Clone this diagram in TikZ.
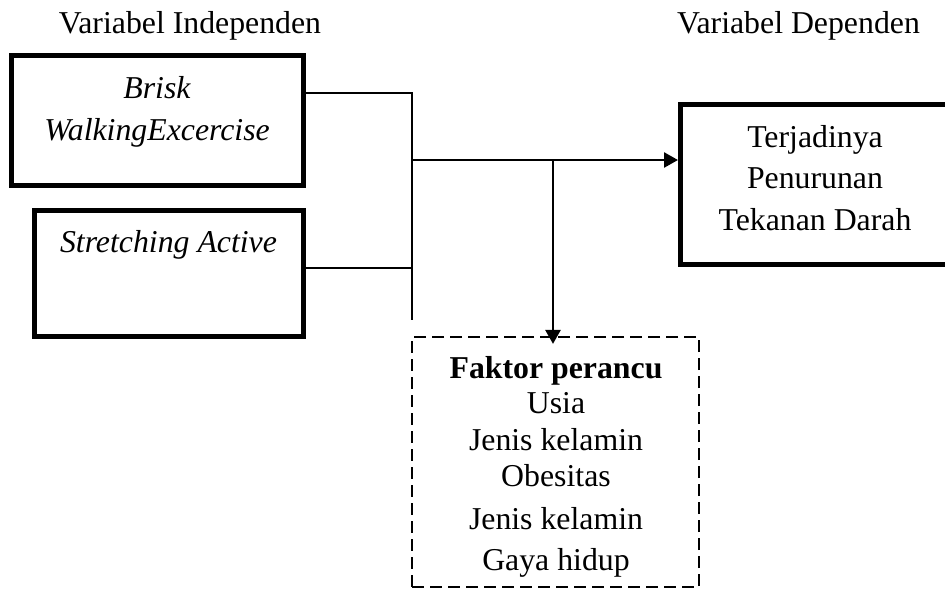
\documentclass[tikz,border=0pt]{standalone}
\usepackage{fontspec}
\setmainfont{Liberation Serif}
\usetikzlibrary{arrows.meta}
\begin{document}
\begin{tikzpicture}[x=1pt,y=-1pt,
  thickbox/.style={draw, line width=5pt, inner sep=0pt},
  dashbox/.style={draw, line width=2.2pt, dash pattern=on 12pt off 6pt, inner sep=0pt},
  txt/.style={anchor=base, inner sep=0pt, font=\fontsize{31.8}{38}\selectfont},
  wire/.style={line width=1.8pt},
  arr/.style={line width=2.6pt, -{Triangle[length=14pt,width=15pt]}}]
\useasboundingbox (0,0) rectangle (945,590);

% headers
\node[txt] (h1) at (190,33) {Variabel Independen};
\node[txt] (h2) at (798.5,33) {Variabel Dependen};

% boxes
\node[thickbox, minimum width=292pt, minimum height=130pt] (b1) at (157.5,120.5) {};
\node[thickbox, minimum width=269pt, minimum height=126pt] (b2) at (169,273.5) {};
\node[thickbox, minimum width=269pt, minimum height=160pt] (b3) at (815,184.5) {};
\node[dashbox, minimum width=287pt, minimum height=250pt] (fk) at (555.5,462) {};

% box texts
\node[txt] (t1a) at (157,98) {\itshape Brisk};
\node[txt] (t1b) at (157,140) {\itshape WalkingExcercise};
\node[txt] (t2) at (168.5,252) {\itshape Stretching Active};
\node[txt] (t3a) at (815,147) {Terjadinya};
\node[txt] (t3b) at (815,188) {Penurunan};
\node[txt] (t3c) at (815,230) {Tekanan Darah};
\node[txt] (f0) at (556,378) {\bfseries Faktor perancu};
\node[txt] (f1) at (556,413) {Usia};
\node[txt] (f2) at (556,450) {Jenis kelamin};
\node[txt] (f3) at (556,486) {Obesitas};
\node[txt] (f4) at (556,529) {Jenis kelamin};
\node[txt] (f5) at (556,570) {Gaya hidup};

% connectors
\coordinate (j1) at (412,93);
\coordinate (j2) at (412,268);
\coordinate (j3) at (412,160);
\coordinate (j4) at (412,320);
\coordinate (j5) at (553,160);
\draw[wire] (b1.east |- j1) -- (j1) -- (j4);
\draw[wire] (b2.east |- j2) -- (j2);
\draw[arr] (j3) -- (b3.west |- j3);
\draw[arr, shorten >=-8pt] (j5) -- (j5 |- fk.north);
\end{tikzpicture}
\end{document}
